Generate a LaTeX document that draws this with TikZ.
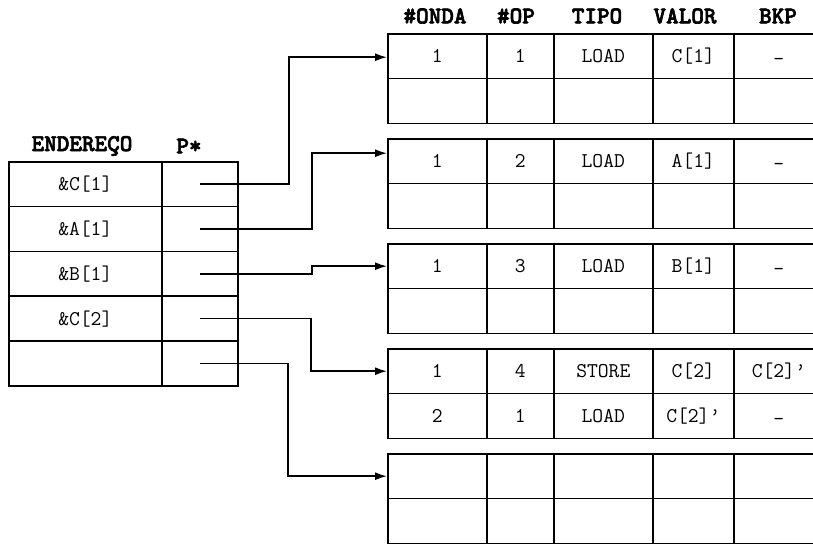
\documentclass[tikz,border=0pt]{standalone}
\usepackage{fontspec}
\newfontfamily\hdrfont{lmmonolt10-bold.otf}[FakeBold=2.5]
\usetikzlibrary{arrows.meta}
\newcommand{\dsh}{\raisebox{-3pt}{-}}
\newcommand{\myrow}[7]{%
  \node[cell,minimum width=99pt] (#1-1) at (387,#2) {#3};
  \node[cell,minimum width=67pt] (#1-2) at (486,#2) {#4};
  \node[cell,minimum width=99pt] (#1-3) at (553,#2) {#5};
  \node[cell,minimum width=81pt] (#1-4) at (652,#2) {#6};
  \node[cell,minimum width=90pt] (#1-5) at (733,#2) {#7};
}
\begin{document}
\begin{tikzpicture}[x=1pt,y=-1pt,
  cell/.style={draw, line width=1.6pt, inner sep=0pt, anchor=north west,
    minimum height=44.8pt, text height=13pt, text depth=0pt,
    font=\ttfamily\fontsize{21}{21}\selectfont},
  hdr/.style={font=\hdrfont\fontsize{24}{24}\selectfont, inner sep=0pt},
  link/.style={line width=1.6pt, -{Latex[length=12pt,width=8pt]}}]
\useasboundingbox (0,0) rectangle (813,544);
\clip (0,0) rectangle (813,544);

% left table
\node[hdr] (hE) at (82,146) {ENDEREÇO};
\node[hdr] (hP) at (189,146) {P*};
\foreach \i/\t in {1/{\&C[1]},2/{\&A[1]},3/{\&B[1]},4/{\&C[2]},5/{}}{
  \node[cell,minimum width=153pt] (e\i) at (8,{161+44.8*(\i-1)}) {\t};
  \node[cell,minimum width=76pt] (p\i) at (161,{161+44.8*(\i-1)}) {};
}

% right headers
\node[hdr] (h1) at (435,16) {\#ONDA};
\node[hdr] (h2) at (516,16) {\#OP};
\node[hdr] (h3) at (597,16) {TIPO};
\node[hdr] (h4) at (685,16) {VALOR};
\node[hdr] (h5) at (778,16) {BKP};

% right tables
\myrow{t1-1}{33}{1}{1}{LOAD}{C[1]}{\dsh}
\myrow{t1-2}{77.8}{}{}{}{}{}
\myrow{t2-1}{138}{1}{2}{LOAD}{A[1]}{\dsh}
\myrow{t2-2}{182.8}{}{}{}{}{}
\myrow{t3-1}{243}{1}{3}{LOAD}{B[1]}{\dsh}
\myrow{t3-2}{287.8}{}{}{}{}{}
\myrow{t4-1}{348}{1}{4}{STORE}{C[2]}{C[2]’}
\myrow{t4-2}{392.8}{2}{1}{LOAD}{C[2]’}{\dsh}
\myrow{t5-1}{453}{}{}{}{}{}
\myrow{t5-2}{497.8}{}{}{}{}{}

% junction columns
\coordinate (j1) at (289,0);
\coordinate (j2) at (312,0);
\coordinate (j3) at (312,0);
\coordinate (j4) at (311,0);
\coordinate (j5) at (288,0);

\draw[link] (p1.center) -- (p1.center -| j1) |- ([yshift=-1pt]t1-1-1.west);
\draw[link] (p2.center) -- (p2.center -| j2) |- ([yshift=8pt]t2-1-1.west);
\draw[link] (p3.center) -- (p3.center -| j3) |- (t3-1-1.west);
\draw[link] (p4.center) -- (p4.center -| j4) |- (t4-1-1.west);
\draw[link] (p5.center) -- (p5.center -| j5) |- (t5-1-1.west);
\end{tikzpicture}
\end{document}
